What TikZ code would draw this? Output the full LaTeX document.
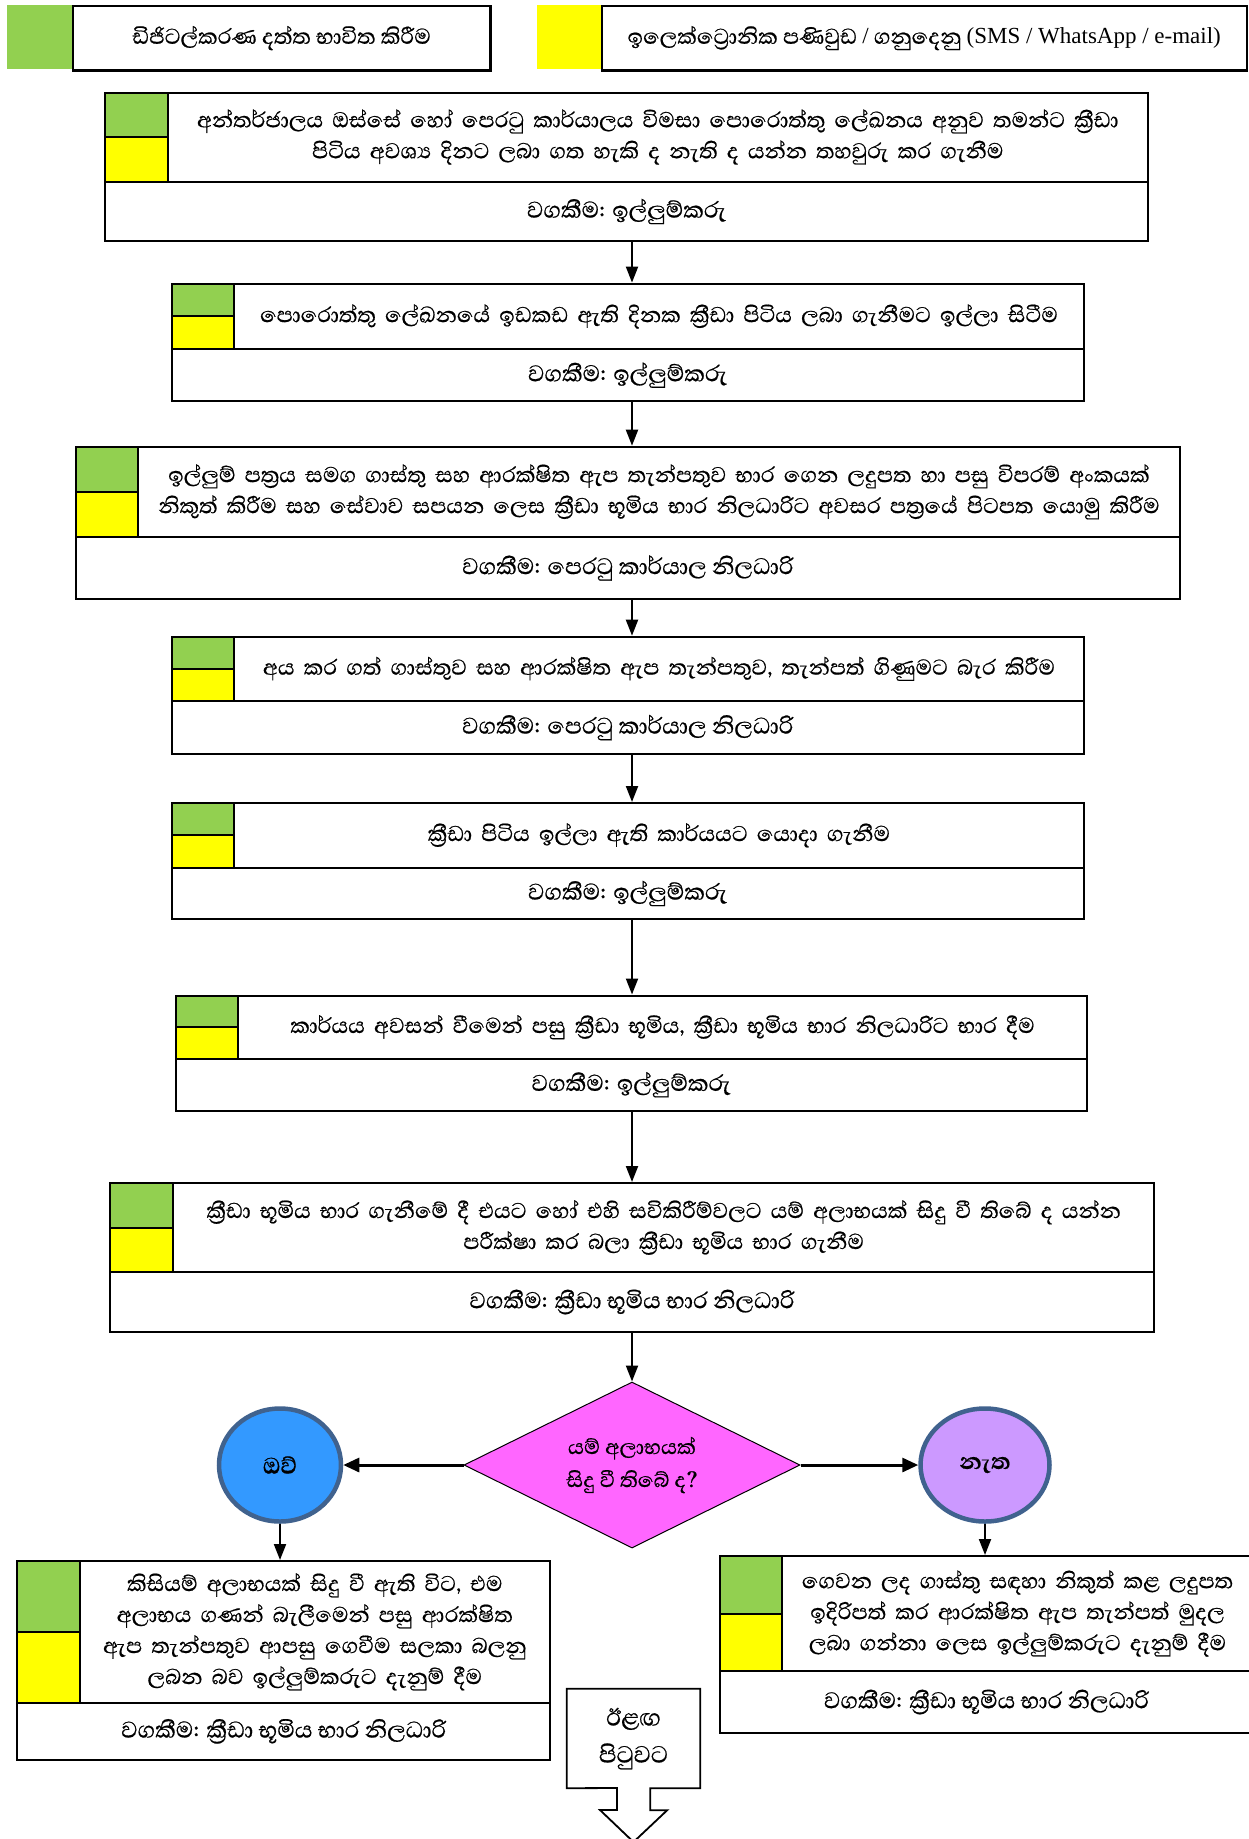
\documentclass[tikz,border=0pt]{standalone}
\usepackage{fontspec}
\setmainfont{Abhaya Libre}[Script=Sinhala,FakeBold=0.6]
\newfontfamily\latinf{Liberation Serif}
\usetikzlibrary{shapes.geometric,arrows.meta}
\definecolor{lgreen}{RGB}{146,208,80}
\definecolor{lyellow}{RGB}{255,255,0}
\definecolor{dpink}{RGB}{255,102,255}
\definecolor{eblue}{RGB}{51,153,255}
\definecolor{epurple}{RGB}{204,153,255}
\definecolor{ebord}{RGB}{64,98,142}
\tikzset{
  cell/.style={draw=black, line width=2pt, inner sep=0pt, font=\fontsize{27.5}{31}\selectfont},
  respf/.style={font=\fontsize{29}{32}\selectfont},
  arr/.style={line width=2pt, -{Triangle[length=16pt,width=12pt]}},
  harr/.style={line width=3pt, -{Triangle[length=16pt,width=14pt]}},
  yesno/.style={ellipse, draw=ebord, line width=4.5pt, inner sep=0pt, font=\fontsize{29}{30}\selectfont\bfseries},
}
\newcommand\mkbox[9]{%
  \pgfmathsetmacro\mkgm{(#5+#6)/2}%
  \pgfmathsetmacro\mkcw{#3-#2}%
  \pgfmathsetmacro\mkgh{\mkgm-#5}%
  \pgfmathsetmacro\mkyh{#6-\mkgm}%
  \pgfmathsetmacro\mktw{#4-#3}%
  \pgfmathsetmacro\mkth{#6-#5}%
  \pgfmathsetmacro\mkbw{#4-#2}%
  \pgfmathsetmacro\mkbh{#7-#6}%
  \node[cell, fill=lgreen, minimum width=\mkcw pt, minimum height=\mkgh pt, anchor=north west] (#1g) at (#2,#5) {};
  \node[cell, fill=lyellow, minimum width=\mkcw pt, minimum height=\mkyh pt, anchor=north west] (#1y) at (#2,\mkgm) {};
  \node[cell, text width=\mktw pt, minimum height=\mkth pt, anchor=north west, align=center] (#1) at (#3,#5) {#8};
  \node[cell, respf, minimum width=\mkbw pt, minimum height=\mkbh pt, anchor=north west] (#1r) at (#2,#6) {#9};
}
\begin{document}
\begin{tikzpicture}[x=1pt,y=-1pt]
\useasboundingbox[fill=white] (0,0) rectangle (1249,1839);
% legend
\node[inner sep=0pt, fill=lgreen, minimum width=64.5pt, minimum height=64.3pt, anchor=north west] (lg1) at (7,4.7) {};
\node[cell, line width=2.5pt, minimum width=417.5pt, minimum height=64.3pt, anchor=north west] (lt1) at (71.5,4.7) {ඩිජිටල්කරණ දත්ත භාවිත කිරීම};
\node[inner sep=0pt, fill=lyellow, minimum width=63.5pt, minimum height=64.3pt, anchor=north west] (ly2) at (537,4.7) {};
\node[cell, line width=2.5pt, minimum width=645pt, minimum height=64.3pt, anchor=north west] (lt2) at (600.5,4.7) {ඉලෙක්ට්‍රොනික පණිවුඩ {\latinf\fontsize{23}{28}\selectfont /} ගනුදෙනු {\latinf\fontsize{23}{28}\selectfont (SMS / WhatsApp / e-mail)}};
% boxes
\mkbox{b1}{104.4}{166.5}{1147}{91.5}{180.6}{240.4}{අන්තර්ජාලය ඔස්සේ හෝ පෙරටු කාර්යාලය විමසා පොරොත්තු ලේඛනය අනුව තමන්ට ක්‍රීඩා\\පිටිය අවශ්‍ය දිනට ලබා ගත හැකි ද නැති ද යන්න තහවුරු කර ගැනීම}{වගකීම: ඉල්ලුම්කරු}
\mkbox{b2}{171}{233.4}{1082.5}{282.6}{348.3}{400}{පොරොත්තු ලේඛනයේ ඉඩකඩ ඇති දිනක ක්‍රීඩා පිටිය ලබා ගැනීමට ඉල්ලා සිටීම}{වගකීම: ඉල්ලුම්කරු}
\mkbox{b3}{75}{137.2}{1178.7}{445.7}{536}{598}{ඉල්ලුම් පත්‍රය සමග ගාස්තු සහ ආරක්ෂිත ඇප තැන්පතුව භාර ගෙන ලදුපත හා පසු විපරම් අංකයක්\\නිකුත් කිරීම සහ සේවාව සපයන ලෙස ක්‍රීඩා භූමිය භාර නිලධාරිට අවසර පත්‍රයේ පිටපත යොමු කිරීම}{වගකීම: පෙරටු කාර්යාල නිලධාරි}
\mkbox{b4}{171}{233.4}{1082.5}{635.7}{700}{753}{අය කර ගත් ගාස්තුව සහ ආරක්ෂිත ඇප තැන්පතුව, තැන්පත් ගිණුමට බැර කිරීම}{වගකීම: පෙරටු කාර්යාල නිලධාරි}
\mkbox{b5}{171}{233.4}{1082.5}{802}{866.7}{918.3}{ක්‍රීඩා පිටිය ඉල්ලා ඇති කාර්යයට යොදා ගැනීම}{වගකීම: ඉල්ලුම්කරු}
\mkbox{b6}{174.7}{237}{1086}{994.5}{1058}{1109.5}{කාර්යය අවසන් වීමෙන් පසු ක්‍රීඩා භූමිය, ක්‍රීඩා භූමිය භාර නිලධාරිට භාර දීම}{වගකීම: ඉල්ලුම්කරු}
\mkbox{b7}{109}{172.4}{1153}{1182}{1271}{1331}{ක්‍රීඩා භූමිය භාර ගැනීමේ දී එයට හෝ එහි සවිකිරීම්වලට යම් අලාභයක් සිදු වී තිබේ ද යන්න\\පරීක්ෂා කර බලා ක්‍රීඩා භූමිය භාර ගැනීම}{වගකීම: ක්‍රීඩා භූමිය භාර නිලධාරි}
% decision
\node[diamond, draw=black, line width=1pt, fill=dpink, minimum width=336pt, minimum height=166pt, inner sep=0pt] (dec) at (632,1465) {};
\node[inner sep=0pt, align=center, font=\fontsize{26.5}{33}\selectfont] (dect) at (dec.center) {යම් අලාභයක්\\සිදු වී තිබේ ද?};
\node[yesno, fill=eblue, minimum width=122pt, minimum height=113pt] (yes) at (280,1465) {ඔව්};
\node[yesno, fill=epurple, minimum width=129pt, minimum height=113pt] (no) at (985,1465) {නැත};
\mkbox{b8}{16.4}{78.6}{549}{1560}{1701.7}{1759}{කිසියම් අලාභයක් සිදු වී ඇති විට, එම\\අලාභය ගණන් බැලීමෙන් පසු ආරක්ෂිත\\ඇප තැන්පතුව ආපසු ගෙවීම සලකා බලනු\\ලබන බව ඉල්ලුම්කරුට දැනුම් දීම}{වගකීම: ක්‍රීඩා භූමිය භාර නිලධාරි}
\mkbox{b9}{719}{781}{1252}{1555}{1670}{1732}{ගෙවන ලද ගාස්තු සඳහා නිකුත් කළ ලදුපත\\ඉදිරිපත් කර ආරක්ෂිත ඇප තැන්පත් මුදල\\ලබා ගන්නා ලෙස ඉල්ලුම්කරුට දැනුම් දීම}{වගකීම: ක්‍රීඩා භූමිය භාර නිලධාරි}
% off-page connector
\node[inner sep=0pt, minimum width=133pt, minimum height=99pt, align=center, font=\fontsize{30}{37}\selectfont] (cont) at (633.5,1738.5) {ඊළඟ\\පිටුවට};
\coordinate (ctip) at (633.5,1842);
\draw[line width=1.8pt, line join=miter] (cont.north west) -- (cont.north east) -- (cont.south east) -- ++(-50,0) -- ++(0,22) -- ++(17,0) -- (ctip) -- ++(-33.5,-32) -- ++(17,0) -- ++(0,-22) -- (cont.south west) -- cycle;
% connectors
\draw[arr] (b1r.south -| dec.north) -- (b2.north -| dec.north);
\draw[arr] (b2r.south -| dec.north) -- (b3.north -| dec.north);
\draw[arr] (b3r.south -| dec.north) -- (b4.north -| dec.north);
\draw[arr] (b4r.south -| dec.north) -- (b5.north -| dec.north);
\draw[arr] (b5r.south -| dec.north) -- (b6.north -| dec.north);
\draw[arr] (b6r.south -| dec.north) -- (b7.north -| dec.north);
\draw[arr] (b7r.south -| dec.north) -- (dec.north);
\draw[harr] (dec.west) -- (yes.east);
\draw[harr] (dec.east) -- (no.west);
\draw[arr] (yes.south) -- (yes.south |- b8.north);
\draw[arr] (no.south) -- (no.south |- b9.north);
\end{tikzpicture}
\end{document}
